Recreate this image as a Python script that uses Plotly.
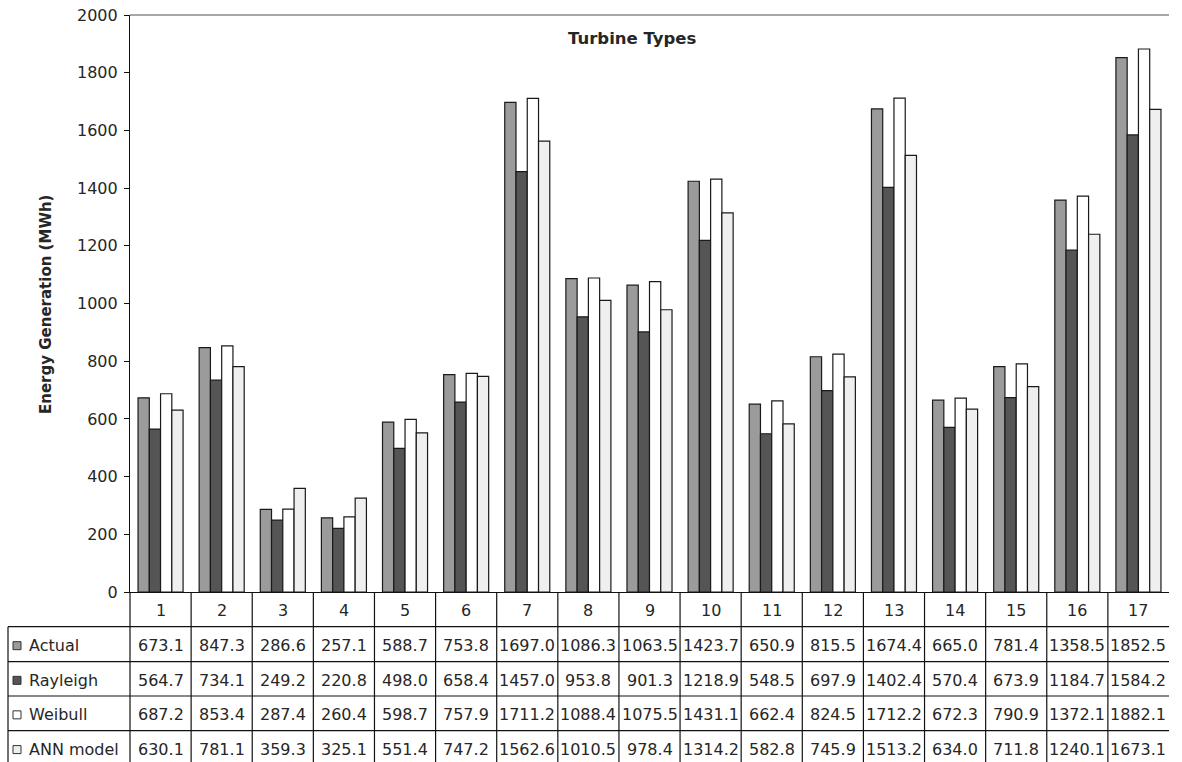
import plotly.graph_objects as go

# Energy generation per turbine type (MWh)
turbines = ["1", "2", "3", "4", "5", "6", "7", "8", "9", "10",
            "11", "12", "13", "14", "15", "16", "17"]
actual = [673.1, 847.3, 286.6, 257.1, 588.7, 753.8, 1697.0, 1086.3, 1063.5,
          1423.7, 650.9, 815.5, 1674.4, 665.0, 781.4, 1358.5, 1852.5]
rayleigh = [564.7, 734.1, 249.2, 220.8, 498.0, 658.4, 1457.0, 953.8, 901.3,
            1218.9, 548.5, 697.9, 1402.4, 570.4, 673.9, 1184.7, 1584.2]
weibull = [687.2, 853.4, 287.4, 260.4, 598.7, 757.9, 1711.2, 1088.4, 1075.5,
           1431.1, 662.4, 824.5, 1712.2, 672.3, 790.9, 1372.1, 1882.1]
ann_model = [630.1, 781.1, 359.3, 325.1, 551.4, 747.2, 1562.6, 1010.5, 978.4,
             1314.2, 582.8, 745.9, 1513.2, 634.0, 711.8, 1240.1, 1673.1]
series_names = ["Actual", "Rayleigh", "Weibull", "ANN model"]
y_ticks = [0, 200, 400, 600, 800, 1000, 1200, 1400, 1600, 1800, 2000]

series_values = [actual, rayleigh, weibull, ann_model]
series_colors = ["#9b9b9b", "#555555", "#ffffff", "#efefef"]

W, H = 1182, 762
L, R, T, B = 130, 13, 15, 170
PW, PH = W - L - R, H - T - B
FONT = "DejaVu Sans"
TXT = "#262626"


def px(x):
    return (x - L) / PW


def py(y):
    return (H - B - y) / PH


n = len(turbines)
xs = list(range(1, n + 1))

fig = go.Figure()
for name, vals, col in zip(series_names, series_values, series_colors):
    fig.add_trace(go.Bar(
        x=xs, y=vals, name=name,
        marker=dict(color=col, line=dict(color="#1a1a1a", width=1.2)),
    ))

shapes = []
annotations = []

# top frame line of the plot area
shapes.append(dict(type="line", xref="paper", yref="paper", x0=0, x1=1, y0=1, y1=1,
                   line=dict(color="#8a8a8a", width=1.5)))

# data table below the axis
axis_y = H - B
row_edges = [axis_y, 626.7, 661.7, 696.0, 730.7, 765.5]
left_edge = 8
line_style = dict(color="#111111", width=1.2)

# horizontal row lines (starting under the header row)
for y in row_edges[1:5]:
    shapes.append(dict(type="line", xref="paper", yref="paper",
                       x0=px(left_edge), x1=1, y0=py(y), y1=py(y), line=line_style))
# left border of the legend column
shapes.append(dict(type="line", xref="paper", yref="paper",
                   x0=px(left_edge), x1=px(left_edge), y0=py(row_edges[1]), y1=py(row_edges[-1]),
                   line=line_style))
# column separators
for k in range(n):
    xk = k / n
    shapes.append(dict(type="line", xref="paper", yref="paper",
                       x0=xk, x1=xk, y0=py(row_edges[0]), y1=py(row_edges[-1]), line=line_style))

cell_font = dict(family=FONT, size=16, color=TXT)

# header row with turbine numbers
hy = (row_edges[0] + row_edges[1]) / 2 + 1
for i, lab in enumerate(turbines):
    annotations.append(dict(xref="paper", yref="paper", x=(i + 0.5) / n, y=py(hy),
                            text=lab, showarrow=False, font=cell_font,
                            xanchor="center", yanchor="middle"))

# value rows with legend keys
for r, (name, vals, col) in enumerate(zip(series_names, series_values, series_colors)):
    top, bot = row_edges[r + 1], row_edges[r + 2]
    cy = (top + bot) / 2 + 1.5
    shapes.append(dict(type="rect", xref="paper", yref="paper",
                       x0=px(13), x1=px(21), y0=py(cy - 4), y1=py(cy + 4),
                       fillcolor=col, line=dict(color="#333333", width=1)))
    annotations.append(dict(xref="paper", yref="paper", x=px(27), y=py(cy),
                            text=name, showarrow=False, font=cell_font,
                            xanchor="left", yanchor="middle"))
    for i, v in enumerate(vals):
        annotations.append(dict(xref="paper", yref="paper", x=(i + 0.5) / n, y=py(cy),
                                text=f"{v:.1f}", showarrow=False, font=cell_font,
                                xanchor="center", yanchor="middle"))

# chart title inside the plot area
annotations.append(dict(xref="paper", yref="paper", x=px(632), y=py(39),
                        text="<b>Turbine Types</b>", showarrow=False,
                        font=dict(family=FONT, size=16.5, color=TXT),
                        xanchor="center", yanchor="middle"))
# y-axis title
annotations.append(dict(xref="paper", yref="paper", x=px(46), y=py(305),
                        text="<b>Energy Generation (MWh)</b>", showarrow=False,
                        textangle=-90, font=dict(family=FONT, size=15, color=TXT),
                        xanchor="center", yanchor="middle"))

fig.update_layout(
    width=W, height=H,
    margin=dict(l=L, r=R, t=T, b=B, pad=0),
    paper_bgcolor="white", plot_bgcolor="white",
    barmode="group", bargap=0.263, bargroupgap=0,
    showlegend=False,
    font=dict(family=FONT, size=16, color=TXT),
    shapes=shapes, annotations=annotations,
    xaxis=dict(range=[0.5, n + 0.5], showticklabels=False, ticks="",
               showgrid=False, zeroline=False, showline=True, automargin=False,
               linecolor="#111111", linewidth=1.2, fixedrange=True),
    yaxis=dict(range=[0, 2000], tickvals=y_ticks, ticks="outside", ticklen=5,
               tickcolor="#111111", tickwidth=1, showgrid=False, zeroline=False,
               showline=True, linecolor="#111111", linewidth=1.2, automargin=False,
               ticklabelstandoff=3,
               tickfont=dict(family=FONT, size=16, color=TXT), fixedrange=True),
)

fig.write_html("out.html")
